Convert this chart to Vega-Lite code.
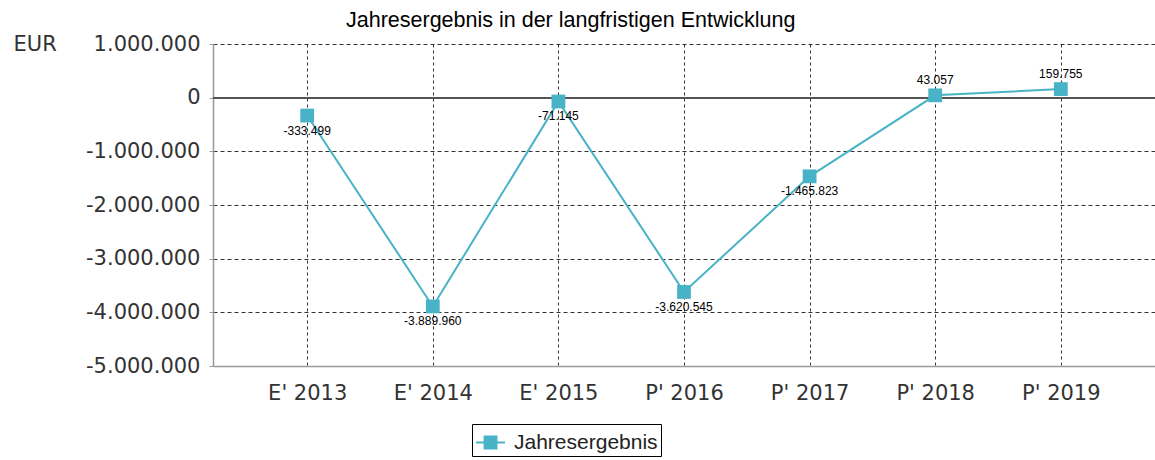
{
  "$schema": "https://vega.github.io/schema/vega-lite/v6.json",
  "autosize": "none",
  "width": 942,
  "height": 322,
  "padding": {"top": 44, "left": 213, "right": 0, "bottom": 94},
  "background": "white",
  "config": {
    "locale": {"number": {"decimal": ",", "thousands": ".", "grouping": [3], "currency": ["", " €"], "minus": "-"}},
    "view": {"stroke": null}
  },
  "title": {
    "text": "Jahresergebnis in der langfristigen Entwicklung",
    "anchor": "start",
    "dx": 333,
    "offset": -15,
    "baseline": "alphabetic",
    "font": "Liberation Sans",
    "fontSize": 21.5,
    "fontWeight": "normal",
    "color": "#000"
  },
  "data": {
    "values": [
      {"jahr": "E' 2013", "wert": -333499, "serie": "Jahresergebnis"},
      {"jahr": "E' 2014", "wert": -3889960, "serie": "Jahresergebnis"},
      {"jahr": "E' 2015", "wert": -71145, "serie": "Jahresergebnis"},
      {"jahr": "P' 2016", "wert": -3620545, "serie": "Jahresergebnis"},
      {"jahr": "P' 2017", "wert": -1465823, "serie": "Jahresergebnis"},
      {"jahr": "P' 2018", "wert": 43057, "serie": "Jahresergebnis"},
      {"jahr": "P' 2019", "wert": 159755, "serie": "Jahresergebnis"}
    ]
  },
  "encoding": {
    "x": {
      "field": "jahr", "type": "ordinal", "sort": null,
      "scale": {"type": "point", "padding": 0.75},
      "axis": {
        "title": null, "labelAngle": 0, "labelFont": "DejaVu Sans", "labelFontSize": 21,
        "labelColor": "#333", "labelPadding": 16, "ticks": false,
        "domainColor": "#999", "domainWidth": 1.5,
        "grid": true, "gridDash": [3, 3], "gridColor": "#333", "gridWidth": 1
      }
    },
    "y": {
      "field": "wert", "type": "quantitative",
      "scale": {"domain": [-5000000, 1000000], "nice": false, "zero": false},
      "axis": {
        "values": [-5000000, -4000000, -3000000, -2000000, -1000000, 0, 1000000],
        "format": ",d", "labelFont": "DejaVu Sans", "labelFontSize": 21, "labelColor": "#333",
        "labelPadding": 9, "tickSize": 4, "tickColor": "#999", "domainColor": "#999", "domainWidth": 1.5,
        "grid": true, "gridDash": [4, 3], "gridColor": "#333", "gridWidth": 1,
        "gridOpacity": {"condition": {"test": "datum.value <= -5000000 || datum.value === 0", "value": 0}, "value": 1},
        "title": "EUR", "titleAngle": 0, "titleX": -200, "titleY": 0, "titleAlign": "left",
        "titleBaseline": "middle", "titleFont": "DejaVu Sans", "titleFontSize": 21,
        "titleFontWeight": "normal", "titleColor": "#333"
      }
    }
  },
  "layer": [
    {
      "mark": {"type": "rule", "color": "#555", "strokeWidth": 1.5},
      "encoding": {"y": {"datum": 0}, "x": {"value": 0}, "x2": {"value": 942}}
    },
    {
      "mark": {"type": "line", "strokeWidth": 2},
      "encoding": {
        "color": {
          "field": "serie", "type": "nominal",
          "scale": {"range": ["#48B3C6"]},
          "legend": {
            "title": null, "orient": "none", "legendX": 259, "legendY": 380,
            "strokeColor": "#000", "padding": 3, "labelFont": "Liberation Sans", "labelFontSize": 21,
            "labelColor": "#222", "labelOffset": 8,
            "symbolType": "M-1,0L1,0M-0.41,-0.41L0.41,-0.41L0.41,0.41L-0.41,0.41Z",
            "symbolSize": 841, "symbolStrokeWidth": 2,
            "symbolFillColor": "#48B3C6", "symbolStrokeColor": "#48B3C6",
            "encode": {"symbols": {"update": {"fill": {"value": "#48B3C6"}, "stroke": {"value": "#48B3C6"}, "opacity": {"value": 1}}}}
          }
        }
      }
    },
    {
      "mark": {"type": "point", "shape": "square", "filled": true, "size": 190, "opacity": 1},
      "encoding": {"color": {"field": "serie", "type": "nominal"}}
    },
    {
      "transform": [{"filter": "datum.wert < 0"}],
      "mark": {"type": "text", "dy": 15, "baseline": "middle", "font": "Liberation Sans", "fontSize": 12, "color": "#000"},
      "encoding": {"text": {"field": "wert", "type": "quantitative", "format": ",d"}}
    },
    {
      "transform": [{"filter": "datum.wert >= 0"}],
      "mark": {"type": "text", "dy": -15, "baseline": "middle", "font": "Liberation Sans", "fontSize": 12, "color": "#000"},
      "encoding": {"text": {"field": "wert", "type": "quantitative", "format": ",d"}}
    }
  ]
}
